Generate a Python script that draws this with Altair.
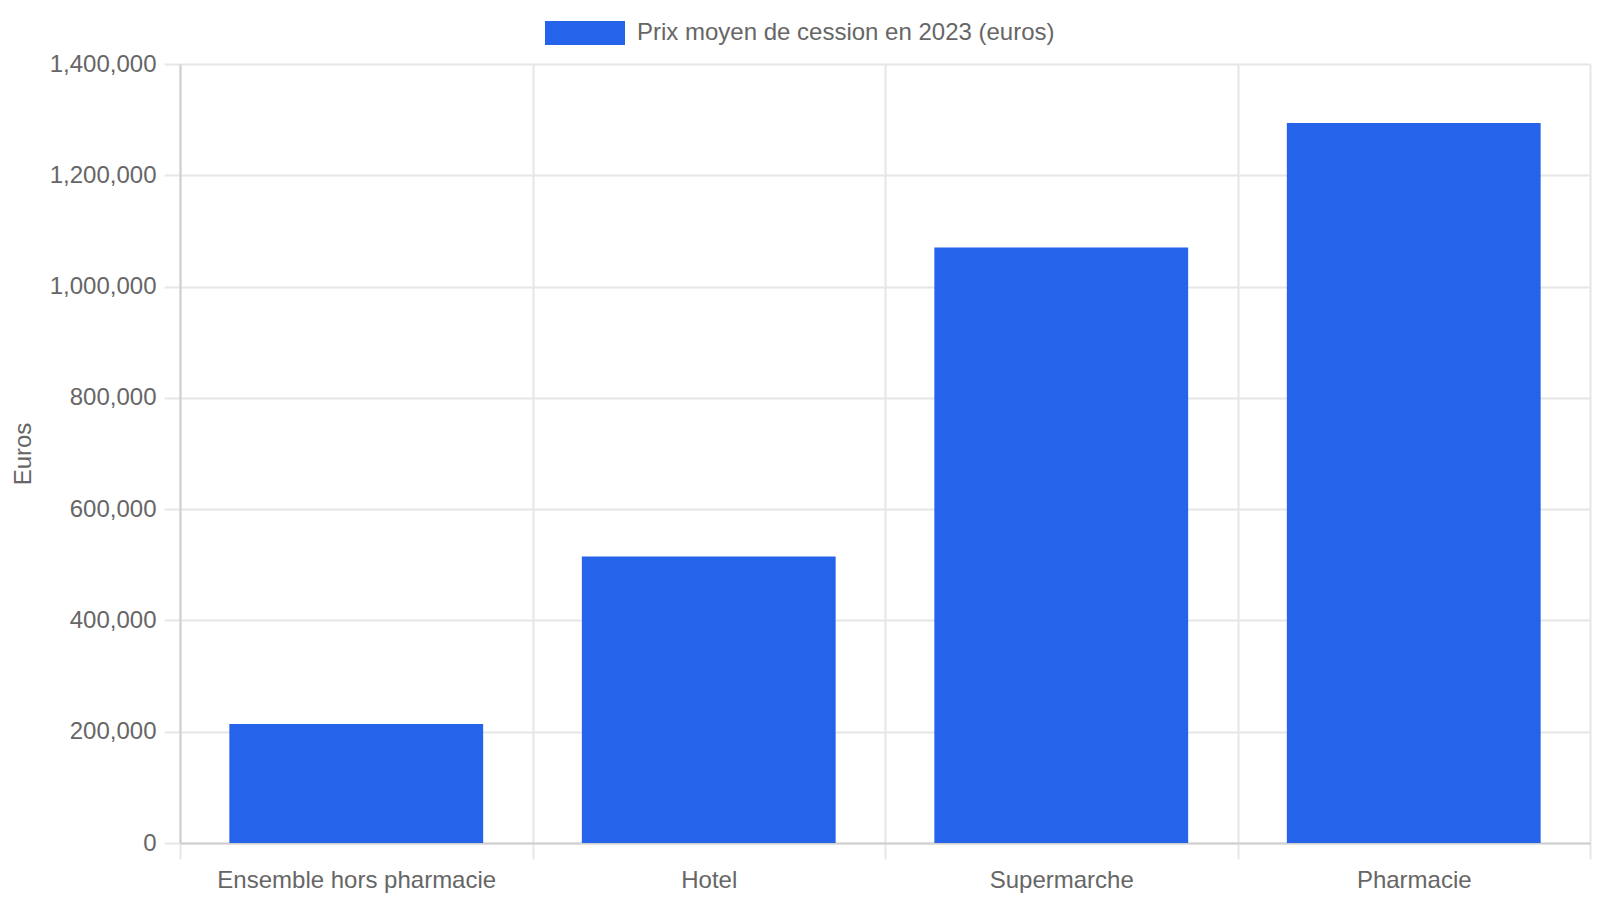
import altair as alt
import pandas as pd

categories = ["Ensemble hors pharmacie", "Hotel", "Supermarche", "Pharmacie"]
values = [214000, 515000, 1070000, 1294000]
series_name = "Prix moyen de cession en 2023 (euros)"
y_ticks = [0, 200000, 400000, 600000, 800000, 1000000, 1200000, 1400000]

df = pd.DataFrame({"cat": categories, "val": values, "series": [series_name] * len(categories)})

FONT = "Liberation Sans, Arial, Helvetica, sans-serif"
TXT = "#666666"
GRID = "#e6e6e6"
AXIS = "#cfcfcf"
BLUE = "#2563eb"

chart = alt.Chart(df).mark_bar(width=alt.RelativeBandSize(0.72), color=BLUE).encode(
    x=alt.X(
        "cat:N",
        sort=categories,
        title=None,
        scale=alt.Scale(paddingInner=0, paddingOuter=0),
        axis=alt.Axis(
            labelAngle=0,
            labelFontSize=24,
            labelColor=TXT,
            labelFont=FONT,
            labelPadding=9,
            labelLimit=0,
            tickBand="extent",
            ticks=True,
            tickSize=16,
            tickColor=GRID,
            tickWidth=2,
            grid=True,
            gridColor=GRID,
            gridWidth=2,
            domainColor=AXIS,
            domainWidth=2,
        ),
    ),
    y=alt.Y(
        "val:Q",
        scale=alt.Scale(domain=[0, 1400000], nice=False),
        axis=alt.Axis(
            values=y_ticks,
            format=",d",
            title="Euros",
            titleFontSize=24,
            titleFontWeight="normal",
            titleColor=TXT,
            titleFont=FONT,
            titleAngle=-90,
            titleBaseline="alphabetic",
            titleAlign="center",
            titleX=-150,
            titleY=389.5,
            labelFontSize=24,
            labelColor=TXT,
            labelFont=FONT,
            labelPadding=8,
            labelLimit=0,
            tickSize=16,
            tickColor=GRID,
            tickWidth=2,
            gridColor=GRID,
            gridWidth=2,
            domainColor=AXIS,
            domainWidth=2,
        ),
    ),
    color=alt.Color(
        "series:N",
        scale=alt.Scale(range=[BLUE]),
        legend=alt.Legend(
            title=None,
            orient="none",
            legendX=365,
            legendY=-71,
            padding=0,
            symbolType="M-1,-0.3H1V0.3H-1Z",
            symbolSize=6400,
            symbolStrokeWidth=0,
            symbolOpacity=1,
            labelFontSize=24,
            labelColor=TXT,
            labelFont=FONT,
            labelOffset=12,
            labelLimit=0,
        ),
    ),
).properties(
    width=1410,
    height=779,
    autosize=alt.AutoSizeParams(type="none"),
    padding={"left": 172, "top": 56, "right": 2, "bottom": 56},
).configure_view(strokeWidth=0)

chart.save("out.html", embed_options={"renderer": "svg", "actions": False})
